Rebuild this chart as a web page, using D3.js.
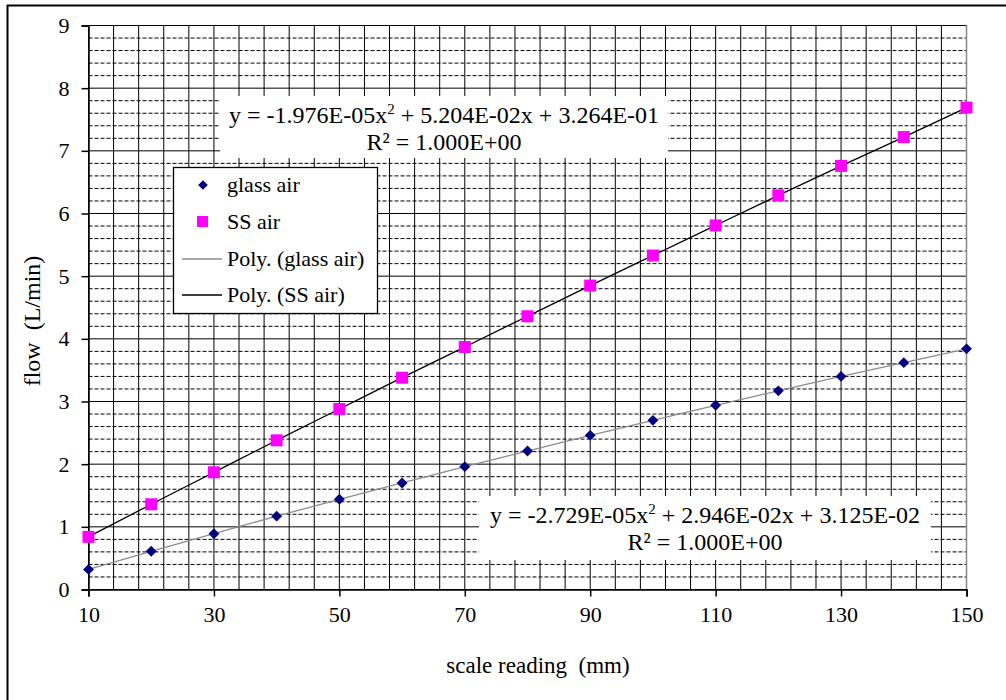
<!DOCTYPE html>
<html>
<head>
  <meta charset="utf-8">
  <title>flow vs scale reading</title>
  <style>
    body { margin: 0; background: #fff; }
    svg text { font-family: "Liberation Serif", "Times New Roman", serif; fill: #000; }
  </style>
</head>
<body>
  <script src="https://cdn.jsdelivr.net/npm/d3@7/dist/d3.min.js"></script>
  <script>
    // data
    var scaleReading = [10, 20, 30, 40, 50, 60, 70, 80, 90, 100, 110, 120, 130, 140, 150];
    var glassAir = [0.32, 0.61, 0.89, 1.17, 1.44, 1.70, 1.96, 2.21, 2.46, 2.70, 2.94, 3.17, 3.40, 3.62, 3.84];
    var ssAir    = [0.84, 1.36, 1.87, 2.38, 2.88, 3.38, 3.87, 4.36, 4.85, 5.33, 5.81, 6.29, 6.76, 7.22, 7.69];
    var xTicks = [10, 30, 50, 70, 90, 110, 130, 150];
    var yTicks = [0, 1, 2, 3, 4, 5, 6, 7, 8, 9];
    var legendLabels = ["glass air", "SS air", "Poly. (glass air)", "Poly. (SS air)"];
    var eqSS = ["y = -1.976E-05x", " + 5.204E-02x + 3.264E-01", "R\u00B2 = 1.000E+00"];
    var eqGlass = ["y = -2.729E-05x", " + 2.946E-02x + 3.125E-02", "R\u00B2 = 1.000E+00"];

    var w = 1006, h = 700;
    var pLeft = 88.5, pRight = 966.5, pTop = 25.5, pBottom = 589.5;

    var svg = d3.select("body").append("svg")
        .attr("width", w)
        .attr("height", h);

    // outer frame (only top and left show in the crop)
    svg.append("rect")
        .attr("x", 7.5).attr("y", 5.5)
        .attr("width", 1020).attr("height", 720)
        .attr("fill", "none").attr("stroke", "#000").attr("stroke-width", 2);

    var x = d3.scaleLinear().domain([10, 150]).range([pLeft, pRight]);
    var y = d3.scaleLinear().domain([0, 9]).range([pBottom, pTop]);

    var grid = svg.append("g");

    // dashed minor horizontal lines every 0.2
    grid.selectAll("line.minor")
        .data(d3.range(1, 45).filter(function(i) { return i % 5 != 0; }).map(function(i) { return i / 5; }))
        .enter().append("line")
        .attr("class", "minor")
        .attr("x1", pLeft).attr("x2", pRight)
        .attr("y1", function(d) { return y(d); })
        .attr("y2", function(d) { return y(d); })
        .attr("stroke", "#000").attr("stroke-width", 1)
        .attr("stroke-dasharray", "4,2");

    // solid vertical lines every 4 units
    grid.selectAll("line.vert")
        .data(d3.range(10, 151, 4))
        .enter().append("line")
        .attr("class", "vert")
        .attr("x1", function(d) { return x(d); })
        .attr("x2", function(d) { return x(d); })
        .attr("y1", pTop).attr("y2", pBottom)
        .attr("stroke", "#000").attr("stroke-width", 1);

    // solid major horizontal lines
    grid.selectAll("line.major")
        .data(yTicks)
        .enter().append("line")
        .attr("class", "major")
        .attr("x1", pLeft).attr("x2", pRight)
        .attr("y1", function(d) { return y(d); })
        .attr("y2", function(d) { return y(d); })
        .attr("stroke", "#000").attr("stroke-width", 1);

    // plot border right side
    svg.append("line")
        .attr("x1", pRight).attr("x2", pRight)
        .attr("y1", pTop).attr("y2", pBottom)
        .attr("stroke", "#888").attr("stroke-width", 1.5);

    // axes
    var xAxis = d3.axisBottom(x).tickValues(xTicks).tickSize(7).tickPadding(10);
    var yAxis = d3.axisLeft(y).tickValues(yTicks).tickSize(7).tickPadding(12);

    var gx = svg.append("g")
        .attr("transform", "translate(0," + pBottom + ")")
        .call(xAxis);
    var gy = svg.append("g")
        .attr("transform", "translate(" + pLeft + ",0)")
        .call(yAxis);
    [gx, gy].forEach(function(g) {
      g.selectAll("path").attr("stroke", "#000").attr("stroke-width", 1.5);
      g.selectAll("line").attr("stroke", "#000").attr("stroke-width", 1.5);
      g.selectAll("text")
        .style("font-family", "'Liberation Serif', serif")
        .style("font-size", "22px")
        .attr("fill", "#000");
    });

    // trendlines
    var line = d3.line()
        .x(function(d, i) { return x(scaleReading[i]); })
        .y(function(d) { return y(d); })
        .curve(d3.curveNatural);

    svg.append("path")
        .datum(glassAir)
        .attr("d", line)
        .attr("fill", "none").attr("stroke", "#8c8c8c").attr("stroke-width", 1.3);
    svg.append("path")
        .datum(ssAir)
        .attr("d", line)
        .attr("fill", "none").attr("stroke", "#000").attr("stroke-width", 1.3);

    // markers
    var diamond = d3.symbol().type(d3.symbolDiamond2).size(75);
    svg.selectAll("path.glass")
        .data(glassAir)
        .enter().append("path")
        .attr("class", "glass")
        .attr("d", diamond)
        .attr("transform", function(d, i) { return "translate(" + x(scaleReading[i]) + "," + y(d) + ")"; })
        .attr("fill", "#000080");

    svg.selectAll("rect.ss")
        .data(ssAir)
        .enter().append("rect")
        .attr("class", "ss")
        .attr("x", function(d, i) { return x(scaleReading[i]) - 6; })
        .attr("y", function(d) { return y(d) - 6; })
        .attr("width", 12).attr("height", 12)
        .attr("fill", "#ff00ff");

    // equation boxes
    function equation(lines, bx, by, bw, bh) {
      var g = svg.append("g");
      g.append("rect")
          .attr("x", bx).attr("y", by)
          .attr("width", bw).attr("height", bh)
          .attr("fill", "#fff");
      var cx = bx + bw / 2;
      var t = g.append("text")
          .attr("x", cx).attr("y", by + 27)
          .attr("text-anchor", "middle")
          .style("font-size", "24px");
      t.append("tspan").text(lines[0]);
      t.append("tspan").attr("dy", -9).style("font-size", "15px").text("2");
      t.append("tspan").attr("dy", 9).text(lines[1]);
      g.append("text")
          .attr("x", cx).attr("y", by + 54)
          .attr("text-anchor", "middle")
          .style("font-size", "24px")
          .text(lines[2]);
    }
    equation(eqSS, 220, 96, 448, 62);
    equation(eqGlass, 479, 496, 452, 64);

    // legend
    var lg = svg.append("g");
    lg.append("rect")
        .attr("x", 173.5).attr("y", 167.5)
        .attr("width", 204).attr("height", 146)
        .attr("fill", "#fff").attr("stroke", "#000").attr("stroke-width", 1.3);
    var rowY = [185, 222, 259, 295];
    lg.append("path")
        .attr("d", d3.symbol().type(d3.symbolDiamond2).size(60))
        .attr("transform", "translate(203," + rowY[0] + ")")
        .attr("fill", "#000080");
    lg.append("rect")
        .attr("x", 197).attr("y", rowY[1] - 6)
        .attr("width", 11).attr("height", 11)
        .attr("fill", "#ff00ff");
    lg.append("line")
        .attr("x1", 182).attr("x2", 222)
        .attr("y1", rowY[2]).attr("y2", rowY[2])
        .attr("stroke", "#8c8c8c").attr("stroke-width", 1.3);
    lg.append("line")
        .attr("x1", 182).attr("x2", 222)
        .attr("y1", rowY[3]).attr("y2", rowY[3])
        .attr("stroke", "#000").attr("stroke-width", 1.3);
    lg.selectAll("text.leg")
        .data(legendLabels)
        .enter().append("text")
        .attr("class", "leg")
        .attr("x", 227)
        .attr("y", function(d, i) { return rowY[i] + 7; })
        .style("font-size", "22px")
        .text(function(d) { return d; });

    // axis titles
    svg.append("text")
        .attr("x", 538).attr("y", 673)
        .attr("text-anchor", "middle")
        .style("font-size", "23px")
        .style("white-space", "pre")
        .text("scale reading  (mm)");

    svg.append("text")
        .attr("transform", "translate(40,321) rotate(-90)")
        .attr("text-anchor", "middle")
        .style("font-size", "24px")
        .style("white-space", "pre")
        .text("flow  (L/min)");
  </script>
</body>
</html>
